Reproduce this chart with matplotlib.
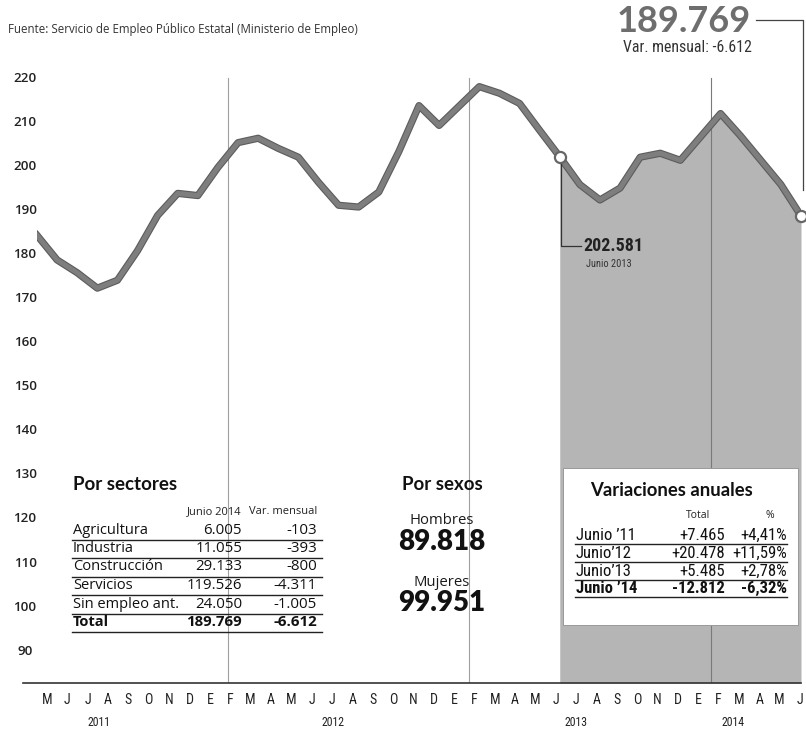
import numpy as np
import matplotlib
matplotlib.use('Agg')
import matplotlib.pyplot as plt
from matplotlib import font_manager as fm
import matplotlib.patheffects as pe
from matplotlib.lines import Line2D
from matplotlib.patches import Rectangle
import matplotlib.transforms as mtransforms

# ---------------- data ----------------
meses = ['M', 'J', 'J', 'A', 'S', 'O', 'N', 'D', 'E', 'F', 'M', 'A', 'M',
         'J', 'J', 'A', 'S', 'O', 'N', 'D', 'E', 'F', 'M', 'A', 'M',
         'J', 'J', 'A', 'S', 'O', 'N', 'D', 'E', 'F', 'M', 'A', 'M', 'J']
years = ['2011', '2012', '2013', '2014']
year_pos = [3.1, 14.7, 26.8, 34.6]

# paro registrado (miles), abril 2011 - junio 2014
paro = [184.0, 178.4, 175.5, 172.0, 173.8, 180.5, 188.5, 193.5, 193.0, 199.4,
        205.0, 206.0, 203.7, 201.7, 196.0, 190.8, 190.4, 193.8, 203.0, 213.4,
        208.9, 213.3, 217.7, 216.2, 213.9, 207.8, 201.8, 195.5, 192.0, 194.7,
        201.7, 202.6, 201.0, 206.3, 211.6, 206.5, 201.0, 195.5, 188.4]
yticks = [90, 100, 110, 120, 130, 140, 150, 160, 170, 180, 190, 200, 210, 220]

sectores = ['Agricultura', 'Industria', 'Construcción', 'Servicios',
            'Sin empleo ant.', 'Total']
sect_junio14 = [6005, 11055, 29133, 119526, 24050, 189769]
sect_var = [-103, -393, -800, -4311, -1005, -6612]

sexos = ['Hombres', 'Mujeres']
sexos_val = [89818, 99951]

anual_labels = ['Junio \u201911', 'Junio\u201912', 'Junio\u201913', 'Junio \u201914']
anual_total = [7465, 20478, 5485, -12812]
anual_pct = [4.41, 11.59, 2.78, -6.32]

dato_final = 189769
var_mensual = -6612
dato_junio13 = 202581

fuente = 'Fuente: Servicio de Empleo Público Estatal (Ministerio de Empleo)'


# ---------------- helpers ----------------
def pick(cands):
    names = {f.name for f in fm.fontManager.ttflist}
    for c in cands:
        if c in names:
            return c
    return 'DejaVu Sans'


NARROW = pick(['Liberation Sans Narrow', 'Roboto Condensed', 'Open Sans Condensed',
               'Liberation Sans'])
BOLD = pick(['Lato', 'Open Sans', 'DejaVu Sans'])
SEMI = pick(['Open Sans', 'Lato', 'DejaVu Sans'])


def miles(v, sign=False):
    s = f"{abs(v):,}".replace(',', '.')
    if v < 0:
        return '-' + s
    return ('+' + s) if sign else s


def pct(v):
    s = f"{abs(v):.2f}".replace('.', ',')
    return ('-' if v < 0 else '+') + s + '%'


W, H = 806, 730
fig = plt.figure(figsize=(W / 100, H / 100), dpi=100)
fig.patch.set_facecolor('white')


def fx(x):
    return x / W


def fy(y):
    return 1 - y / H


# axis mapping: 220 at y=76.5, 4.41 px per unit
px_per = 4.41
y_bot = 220 - (683 - 76.5) / px_per
y_top = 220 + (76.5 - 70) / px_per

ax = fig.add_axes([fx(37), fy(683), fx(801) - fx(37), fy(70) - fy(683)])
ax.set_xlim(0, len(paro) - 1)
ax.set_ylim(y_bot, y_top)
for s in ax.spines.values():
    s.set_visible(False)
ax.set_facecolor('white')

x = np.arange(len(paro))
k = 26  # junio 2013

ax.fill_between(x[k:], paro[k:], y_bot, color='#b5b5b5', lw=0, zorder=1)

# year separators (between January and February)
for i, m in enumerate(meses):
    if m == 'E':
        xv = i + 1 + 0.5
        ax.plot([xv, xv], [y_bot, 219.6], color='#a0a0a0' if xv < k else '#7a7a7a',
                lw=0.8, zorder=2)

ax.plot(x, paro, color='#7e7e7e', lw=3.6, zorder=3, solid_joinstyle='round',
        path_effects=[pe.Stroke(linewidth=5.2, foreground='#5c5c5c'), pe.Normal()])
ax.plot([x[k], x[-1]], [paro[k], paro[-1]], 'o', ms=8, mfc='white', mec='#666666',
        mew=1.6, zorder=4, clip_on=False)

ax.set_yticks(yticks)
ax.set_yticklabels([str(t) for t in yticks], fontsize=9.6, fontfamily=SEMI,
                   fontweight='semibold', color='#222222')
for lab in ax.get_yticklabels():
    lab.set_ha('center')
ax.tick_params(axis='y', length=0, pad=8.6)

ax.set_xticks(np.linspace(0.5, 37.95, len(meses)))
ax.set_xticklabels(meses, fontsize=10, fontfamily=NARROW, color='#222222')
ax.tick_params(axis='x', length=0, pad=7)

trans = mtransforms.blended_transform_factory(ax.transData, fig.transFigure)
for yr, xp in zip(years, year_pos):
    ax.text(xp, fy(722), yr, transform=trans, ha='center', va='center',
            fontsize=8.5, fontfamily=NARROW, color='#222222')

# baseline
fig.add_artist(Line2D([fx(23), fx(801)], [fy(683), fy(683)], color='#333333', lw=1.2))

# source
fig.text(fx(8), fy(30), fuente, ha='left', va='center', fontsize=8.3,
         fontfamily=SEMI, color='#333333')

# top-right callout
fig.text(fx(751), fy(21), miles(dato_final), ha='right', va='center', fontsize=26,
         fontfamily=BOLD, fontweight='bold', color='#6e6e6e')
fig.text(fx(752), fy(47), 'Var. mensual: ' + miles(var_mensual), ha='right',
         va='center', fontsize=11.4, fontfamily=NARROW, color='#333333')
fig.add_artist(Line2D([fx(756), fx(803), fx(803)], [fy(20), fy(20), fy(190)],
                      color='#444444', lw=0.9))

# junio 2013 callout
fig.add_artist(Line2D([fx(561), fx(561), fx(581)], [fy(164), fy(246), fy(246)],
                      color='#333333', lw=0.9))
fig.text(fx(583), fy(246), miles(dato_junio13), ha='left', va='center', fontsize=13,
         fontfamily=NARROW, fontweight='bold', color='#222222')
fig.text(fx(586), fy(264), 'Junio 2013', ha='left', va='center', fontsize=7.5,
         fontfamily=NARROW, color='#333333')

# ---------- Por sectores ----------
fig.text(fx(73), fy(485), 'Por sectores', ha='left', va='center', fontsize=13.5,
         fontfamily=BOLD, fontweight='bold', color='#111111')
fig.text(fx(242), fy(512), 'Junio 2014', ha='right', va='center', fontsize=8,
         fontfamily=SEMI, color='#222222')
fig.text(fx(317), fy(512), 'Var. mensual', ha='right', va='center', fontsize=8,
         fontfamily=SEMI, color='#222222')
row_y = [530, 548.5, 567, 585.5, 604, 622.5]
for i, (nm, v1, v2) in enumerate(zip(sectores, sect_junio14, sect_var)):
    wt = 'bold' if nm == 'Total' else 'normal'
    yy = row_y[i]
    fig.text(fx(73), fy(yy), nm, ha='left', va='center', fontsize=10.5,
             fontfamily=SEMI, fontweight=wt, color='#111111')
    fig.text(fx(242), fy(yy), miles(v1), ha='right', va='center', fontsize=10.8,
             fontfamily=SEMI, fontweight=wt, color='#111111')
    fig.text(fx(317), fy(yy), miles(v2), ha='right', va='center', fontsize=10.8,
             fontfamily=SEMI, fontweight=wt, color='#111111')
    fig.add_artist(Line2D([fx(72), fx(322)], [fy(yy + 9.5), fy(yy + 9.5)],
                          color='#222222', lw=1.0))

# ---------- Por sexos ----------
fig.text(fx(442), fy(485), 'Por sexos', ha='center', va='center', fontsize=13.4,
         fontfamily=BOLD, fontweight='bold', color='#111111')
for nm, v, yl, yv in zip(sexos, sexos_val, [520, 582], [542, 603]):
    fig.text(fx(442), fy(yl), nm, ha='center', va='center', fontsize=10.7,
             fontfamily=SEMI, color='#1a1a1a')
    fig.text(fx(442), fy(yv), miles(v), ha='center', va='center', fontsize=20,
             fontfamily=BOLD, fontweight='heavy', color='#111111')

# ---------- Variaciones anuales ----------
fig.add_artist(Rectangle((fx(563), fy(625)), fx(798) - fx(563), (625 - 468) / H,
                         transform=fig.transFigure, fc='white', ec='#999999', lw=0.7,
                         zorder=2))
fig.text(fx(590), fy(490), 'Variaciones anuales', ha='left', va='center', fontsize=13.3,
         fontfamily=BOLD, fontweight='bold', color='#111111', zorder=3)
fig.text(fx(698), fy(515), 'Total', ha='center', va='center', fontsize=7.5,
         fontfamily=SEMI, color='#222222', zorder=3)
fig.text(fx(770), fy(515), '%', ha='center', va='center', fontsize=7.5,
         fontfamily=SEMI, color='#222222', zorder=3)
an_y = [535, 553, 571, 588.5]
for i, (nm, t, p) in enumerate(zip(anual_labels, anual_total, anual_pct)):
    wt = 'bold' if i == len(anual_labels) - 1 else 'normal'
    yy = an_y[i]
    fig.text(fx(576), fy(yy), nm, ha='left', va='center', fontsize=12,
             fontfamily=NARROW, fontweight=wt, color='#111111', zorder=3)
    fig.text(fx(725), fy(yy), miles(t, sign=True), ha='right', va='center',
             fontsize=12, fontfamily=NARROW, fontweight=wt, color='#111111', zorder=3)
    fig.text(fx(787), fy(yy), pct(p), ha='right', va='center', fontsize=12,
             fontfamily=NARROW, fontweight=wt, color='#111111', zorder=3)
    fig.add_artist(Line2D([fx(575), fx(787)], [fy(yy + 8.5), fy(yy + 8.5)],
                          color='#222222', lw=1.0, zorder=3))

fig.savefig('out.png', dpi=100, facecolor='white')
